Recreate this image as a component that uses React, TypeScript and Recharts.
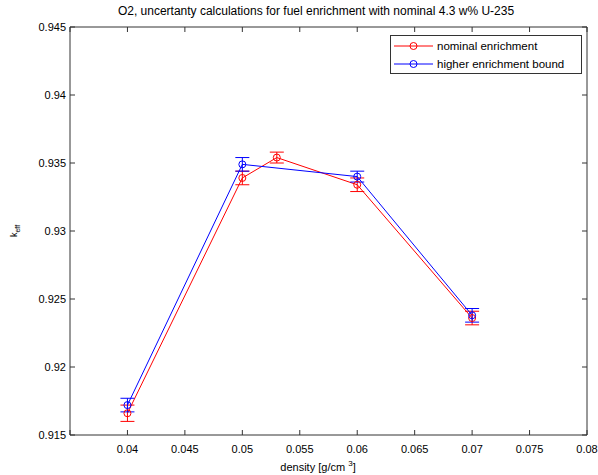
import React from 'react';
import { ComposedChart, Line, XAxis, YAxis, ErrorBar } from 'recharts';

const xRed = [0.04, 0.05, 0.053, 0.06, 0.07];
const yRed = [0.9166, 0.9339, 0.9354, 0.9334, 0.9236];
const errRed = [0.0006, 0.0005, 0.0004, 0.0005, 0.0005];

const xBlue = [0.04, 0.05, 0.06, 0.07];
const yBlue = [0.9172, 0.9349, 0.934, 0.9238];
const errBlue = [0.0005, 0.0005, 0.0004, 0.0005];

const xTicks = [0.035, 0.04, 0.045, 0.05, 0.055, 0.06, 0.065, 0.07, 0.075, 0.08];
const xTickLabels = ['', '0.04', '0.045', '0.05', '0.055', '0.06', '0.065', '0.07', '0.075', '0.08'];
const yTicks = [0.915, 0.92, 0.925, 0.93, 0.935, 0.94, 0.945];
const yTickLabels = ['0.915', '0.92', '0.925', '0.93', '0.935', '0.94', '0.945'];

const seriesNames = ['nominal enrichment', 'higher enrichment bound'];
const title = 'O2, uncertanty calculations for fuel enrichment with nominal 4.3 w% U-235';

const redData = xRed.map((x, i) => ({ x, y: yRed[i], err: errRed[i] }));
const blueData = xBlue.map((x, i) => ({ x, y: yBlue[i], err: errBlue[i] }));

const FONT = '"Liberation Sans", Arial, Helvetica, sans-serif';
const AX = '#333333';
const TL = 5;

const BottomTick = (p: any) => {
  const idx = xTicks.findIndex((t) => Math.abs(t - p.payload.value) < 1e-9);
  const lab = idx >= 0 ? xTickLabels[idx] : '';
  return (
    <g>
      <line x1={p.x} y1={p.y} x2={p.x} y2={p.y - TL} stroke={AX} />
      {lab && (
        <text x={p.x} y={p.y + 18} textAnchor="middle" fontSize={11} fontFamily={FONT} fill="#000">
          {lab}
        </text>
      )}
    </g>
  );
};
const TopTick = (p: any) => (
  <line x1={p.x} y1={p.y} x2={p.x} y2={p.y + TL} stroke={AX} />
);
const LeftTick = (p: any) => {
  const idx = yTicks.findIndex((t) => Math.abs(t - p.payload.value) < 1e-9);
  const lab = idx >= 0 ? yTickLabels[idx] : '';
  return (
    <g>
      <line x1={p.x} y1={p.y} x2={p.x + TL} y2={p.y} stroke={AX} />
      <text x={p.x - 4} y={p.y + 4} textAnchor="end" fontSize={11} fontFamily={FONT} fill="#000">
        {lab}
      </text>
    </g>
  );
};
const RightTick = (p: any) => (
  <line x1={p.x} y1={p.y} x2={p.x - TL} y2={p.y} stroke={AX} />
);

const LegendRow = ({ color, label }: { color: string; label: string }) => (
  <div style={{ display: 'flex', alignItems: 'center', height: 18 }}>
    <svg width={44} height={10} style={{ display: 'block' }}>
      <line x1={3} y1={5} x2={42} y2={5} stroke={color} strokeWidth={1} />
      <circle cx={22.5} cy={5} r={3.5} fill="none" stroke={color} strokeWidth={1} />
    </svg>
    <span style={{ fontSize: 11.5, fontFamily: FONT, color: '#000', marginLeft: 2 }}>{label}</span>
  </div>
);

export default function App() {
  return (
    <div style={{ position: 'absolute', left: 0, top: 0, width: 598, height: 475, background: '#fff' }}>
      <ComposedChart
        width={598}
        height={475}
        margin={{ top: 26, right: 10, bottom: 39, left: 69 }}
      >
        <XAxis
          xAxisId="b"
          dataKey="x"
          type="number"
          domain={[0.035, 0.08]}
          ticks={xTicks}
          interval={0}
          height={1}
          tickSize={0}
          tickMargin={0}
          tickLine={false}
          axisLine={{ stroke: AX }}
          tick={BottomTick}
          allowDataOverflow
        />
        <XAxis
          xAxisId="t"
          orientation="top"
          dataKey="x"
          type="number"
          domain={[0.035, 0.08]}
          ticks={xTicks}
          interval={0}
          height={1}
          tickSize={0}
          tickMargin={0}
          tickLine={false}
          axisLine={{ stroke: AX }}
          tick={TopTick}
          allowDataOverflow
        />
        <YAxis
          yAxisId="l"
          type="number"
          domain={[0.915, 0.945]}
          ticks={yTicks}
          interval={0}
          width={1}
          tickSize={0}
          tickMargin={0}
          tickLine={false}
          axisLine={{ stroke: AX }}
          tick={LeftTick}
          allowDataOverflow
        />
        <YAxis
          yAxisId="r"
          orientation="right"
          type="number"
          domain={[0.915, 0.945]}
          ticks={yTicks}
          interval={0}
          width={1}
          tickSize={0}
          tickMargin={0}
          tickLine={false}
          axisLine={{ stroke: AX }}
          tick={RightTick}
          allowDataOverflow
        />
        <Line
          xAxisId="b"
          yAxisId="l"
          data={redData}
          dataKey="y"
          type="linear"
          stroke="#ff0000"
          strokeWidth={1}
          dot={{ r: 3.5, fill: 'none', stroke: '#ff0000', strokeWidth: 1 }}
          activeDot={false}
          isAnimationActive={false}
          name={seriesNames[0]}
        >
          <ErrorBar dataKey="err" direction="y" width={7} stroke="#ff0000" strokeWidth={1} isAnimationActive={false} />
        </Line>
        <Line
          xAxisId="b"
          yAxisId="l"
          data={blueData}
          dataKey="y"
          type="linear"
          stroke="#0000ff"
          strokeWidth={1}
          dot={{ r: 3.5, fill: 'none', stroke: '#0000ff', strokeWidth: 1 }}
          activeDot={false}
          isAnimationActive={false}
          name={seriesNames[1]}
        >
          <ErrorBar dataKey="err" direction="y" width={7} stroke="#0000ff" strokeWidth={1} isAnimationActive={false} />
        </Line>
      </ComposedChart>

      <div
        style={{
          position: 'absolute', left: 0, width: 632, top: 4, textAlign: 'center',
          fontSize: 12, fontFamily: FONT, color: '#000', whiteSpace: 'nowrap',
        }}
      >
        {title}
      </div>

      <div
        style={{
          position: 'absolute', left: 228, width: 180, top: 459, textAlign: 'center',
          fontSize: 11, fontFamily: FONT, color: '#000', whiteSpace: 'nowrap',
        }}
      >
        density [g/cm <sup style={{ fontSize: 8 }}>3</sup>]
      </div>

      <div
        style={{
          position: 'absolute', left: -9, top: 224, width: 50, height: 14, textAlign: 'center',
          transform: 'rotate(-90deg)', fontSize: 9, fontFamily: FONT, color: '#000', whiteSpace: 'nowrap',
        }}
      >
        k<sub style={{ fontSize: 7 }}>eff</sub>
      </div>

      <div
        style={{
          position: 'absolute', left: 390, top: 35, width: 190, height: 36,
          border: `1px solid ${AX}`, background: '#fff', paddingTop: 1, boxSizing: 'content-box',
        }}
      >
        <LegendRow color="#ff0000" label={seriesNames[0]} />
        <LegendRow color="#0000ff" label={seriesNames[1]} />
      </div>
    </div>
  );
}
